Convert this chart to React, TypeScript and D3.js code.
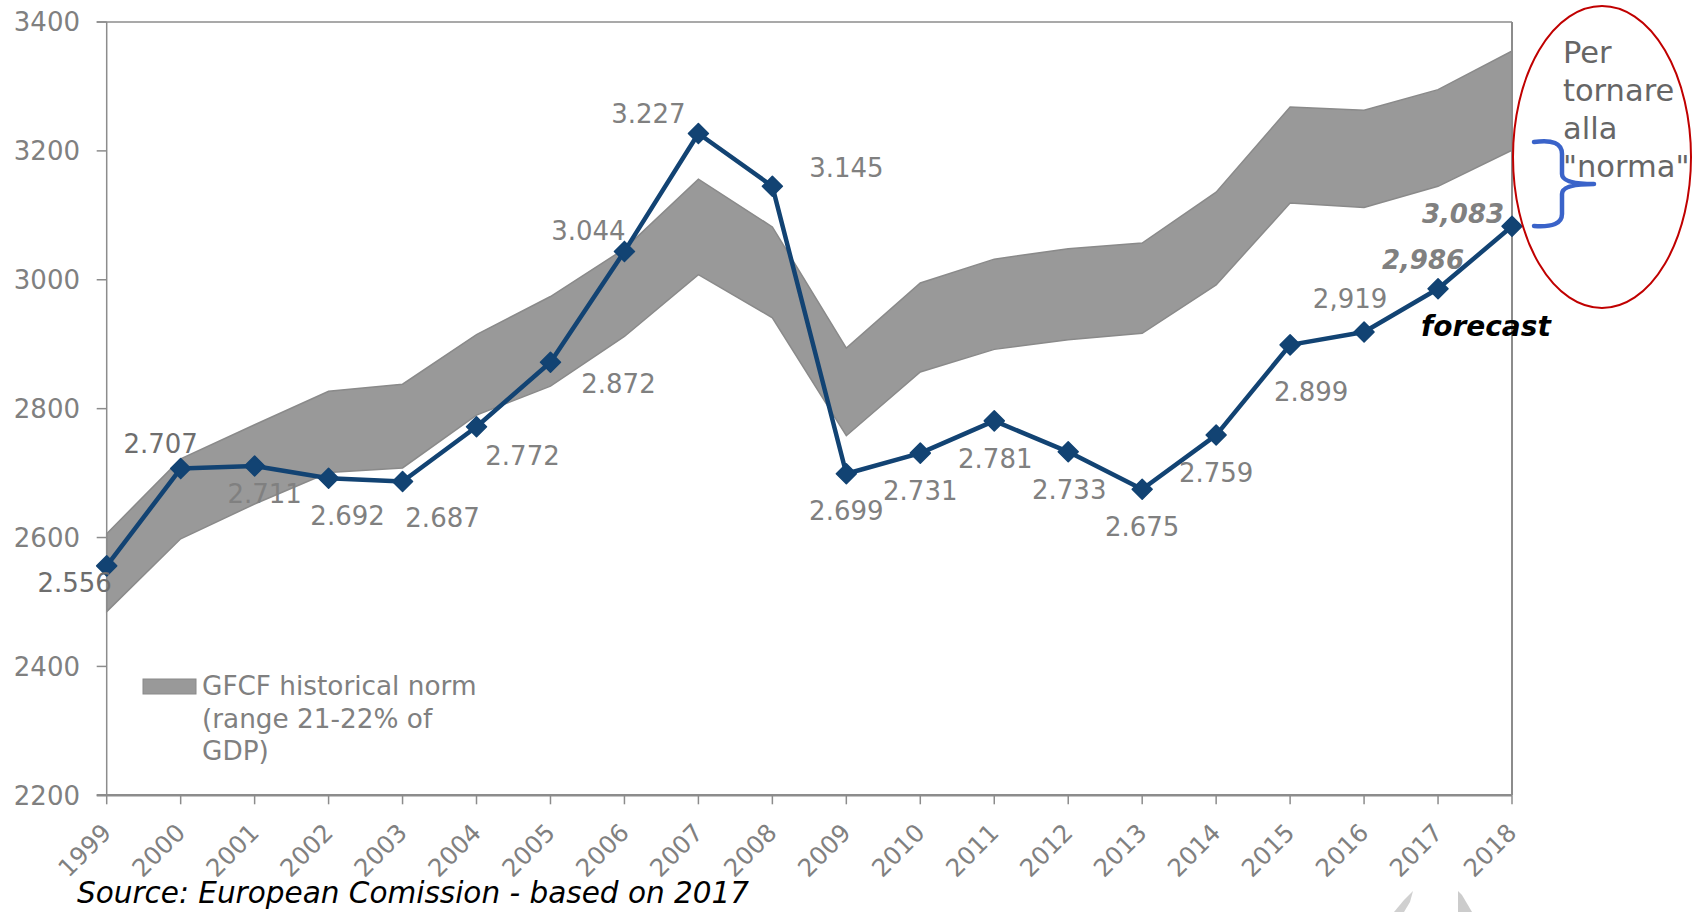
import React from "react";
import * as d3 from "d3";

const years = [1999, 2000, 2001, 2002, 2003, 2004, 2005, 2006, 2007, 2008, 2009, 2010, 2011, 2012, 2013, 2014, 2015, 2016, 2017, 2018];
const gfcf = [2556, 2707, 2711, 2692, 2687, 2772, 2872, 3044, 3227, 3145, 2699, 2731, 2781, 2733, 2675, 2759, 2899, 2919, 2986, 3083];
const gfcfLabels = ["2.556", "2.707", "2.711", "2.692", "2.687", "2.772", "2.872", "3.044", "3.227", "3.145", "2.699", "2.731", "2.781", "2.733", "2.675", "2.759", "2.899", "2,919", "2,986", "3,083"];
const normLow = [2485, 2598, 2652, 2701, 2708, 2790, 2835, 2912, 3008, 2941, 2758, 2857, 2892, 2907, 2917, 2992, 3119, 3112, 3145, 3201];
const normHigh = [2606, 2722, 2775, 2827, 2838, 2915, 2974, 3048, 3156, 3082, 2894, 2995, 3032, 3048, 3057, 3136, 3268, 3263, 3295, 3355];
const yTicks = [2200, 2400, 2600, 2800, 3000, 3200, 3400];
const legendLines = ["GFCF historical norm", "(range 21-22% of", "GDP)"];
const noteLines = ["Per", "tornare", "alla", "\"norma\""];
const sourceText = "Source: European Comission - based on 2017";
const forecastText = "forecast";

// layout (label offsets relative to each point: [dx, dy])
const labelOffsets: [number, number][] = [
  [-32, 26], [-20, -16], [10, 37], [19, 47], [40, 46], [46, 38], [68, 31], [-36, -11], [-50, -10], [74, -9],
  [0, 46], [0, 47], [1, 47], [1, 47], [0, 47], [0, 47], [21, 56], [-14, -24], [-15, -20], [-49, -3],
];

const FONT = "'DejaVu Sans', Verdana, sans-serif";

export default function App() {
  const W = 1695, H = 912;
  const left = 106.7, right = 1512, top = 22, bottom = 795.3;
  const x = d3.scaleLinear().domain([1999, 2018]).range([left, right]);
  const y = d3.scaleLinear().domain([2200, 3400]).range([bottom, top]);

  const band = d3.area<number>()
    .x((_, i) => x(years[i]))
    .y0((_, i) => y(normLow[i]))
    .y1((_, i) => y(normHigh[i]))(years) || "";

  const line = d3.line<number>()
    .x((_, i) => x(years[i]))
    .y((d) => y(d))(gfcf) || "";

  const diamond = d3.symbol().type(d3.symbolSquare).size(200)() || "";

  const axisColor = "#8c8c8c";
  const textGray = "#808080";

  return (
    <svg width={W} height={H} style={{ position: "absolute", left: 0, top: 0, background: "#fff" }} fontFamily={FONT}>
      <rect x={0} y={0} width={W} height={H} fill="#fff" />
      {/* band */}
      <path d={band} fill="#999999" stroke="#8a8a8a" strokeWidth={1.5} />

      {/* frame / axes */}
      <line x1={left - 10} x2={right} y1={top} y2={top} stroke={axisColor} strokeWidth={1.5} />
      <line x1={right} x2={right} y1={top} y2={bottom} stroke={axisColor} strokeWidth={2} />
      <line x1={left} x2={left} y1={top} y2={bottom} stroke={axisColor} strokeWidth={1.5} />
      {yTicks.map((t) => (
        <g key={t}>
          <line x1={left - 10} x2={left} y1={y(t)} y2={y(t)} stroke={axisColor} strokeWidth={1.5} />
          <text x={80} y={y(t)} dy="0.36em" textAnchor="end" fontSize={26} fill={textGray}>{t}</text>
        </g>
      ))}
      <line x1={left - 10} x2={right} y1={bottom} y2={bottom} stroke={axisColor} strokeWidth={2.5} />
      {years.map((yr) => (
        <g key={yr}>
          <line x1={x(yr)} x2={x(yr)} y1={bottom} y2={bottom + 9} stroke={axisColor} strokeWidth={1.5} />
          <text
            transform={`translate(${x(yr) + 6},${bottom + 39}) rotate(-45)`}
            textAnchor="end"
            fontSize={24.5}
            fill={textGray}
          >{yr}</text>
        </g>
      ))}

      {/* GFCF line */}
      <path d={line} fill="none" stroke="#124373" strokeWidth={4.5} strokeLinejoin="round" />
      {gfcf.map((v, i) => (
        <path key={i} d={diamond} transform={`translate(${x(years[i])},${y(v)}) rotate(45)`} fill="#124373" stroke="#124373" strokeWidth={1.5} strokeLinejoin="round" />
      ))}

      {/* data labels */}
      {gfcf.map((v, i) => {
        const emph = i >= 18;
        return (
          <text
            key={i}
            x={x(years[i]) + labelOffsets[i][0]}
            y={y(v) + labelOffsets[i][1]}
            textAnchor="middle"
            fontSize={26}
            fontWeight={emph ? "bold" : "normal"}
            fontStyle={emph ? "italic" : "normal"}
            fill={i < 2 ? "#6e6e6e" : textGray}
          >{gfcfLabels[i]}</text>
        );
      })}

      {/* forecast */}
      <text x={1421} y={336} fontSize={28} fontWeight="bold" fontStyle="italic" fill="#000">{forecastText}</text>

      {/* legend */}
      <rect x={143} y={679} width={53} height={15} fill="#999999" stroke="#8a8a8a" strokeWidth={1} />
      {legendLines.map((l, i) => (
        <text key={i} x={202} y={695 + i * 32.5} fontSize={26.3} fill={textGray}>{l}</text>
      ))}

      {/* annotation */}
      <ellipse cx={1602} cy={157} rx={89} ry={151} fill="none" stroke="#c00000" strokeWidth={2} />
      {noteLines.map((l, i) => (
        <text key={i} x={1563} y={62.7 + i * 38.2} fontSize={30.5} fill="#666666">{l}</text>
      ))}
      <path
        d="M1534,142 Q1562,138 1562,154 L1562,174 Q1562,184 1594,184 M1594,184 Q1562,184 1562,194 L1562,214 Q1562,228 1534,226"
        fill="none"
        stroke="#3a63c9"
        strokeWidth={4.5}
        strokeLinecap="round"
      />

      {/* source */}
      <text x={77} y={903} fontSize={29.5} fontStyle="italic" fill="#000">{sourceText}</text>

      {/* faint cropped artefacts */}
      <path d="M1394,912 L1404,900 L1413,891 L1410,902 L1404,912 Z" fill="#d0d0d0" />
      <path d="M1458,891 L1462,895 L1472,912 L1458,912 Z" fill="#cccccc" />
    </svg>
  );
}
